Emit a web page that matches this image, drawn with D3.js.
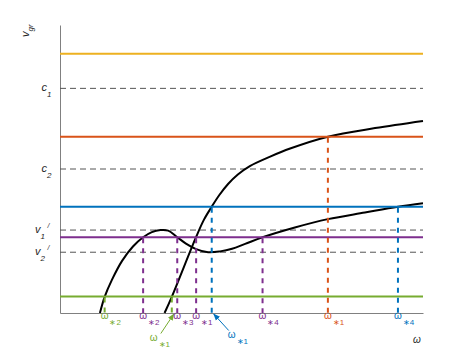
<!DOCTYPE html>
<html>
<head>
<meta charset="utf-8">
<script src="https://cdn.jsdelivr.net/npm/d3@7"></script>
<style>
  body { margin: 0; background: #fff; }
  svg text { font-family: "Liberation Sans", Arial, Helvetica, sans-serif; }
</style>
</head>
<body>
<svg id="chart" width="467" height="350"></svg>
<script>
/// Data ///
// horizontal coloured levels (yellow, orange, blue, purple, green)
const bandLevels = [9.0, 6.12, 3.69, 2.63, 0.57];
const bandColors = ["#EDB120", "#D95319", "#0072BD", "#7E2F8E", "#77AC30"];

// dashed reference levels c1, c2, v1', v2'
const refLevels = [7.8, 5.0, 2.88, 2.11];
const refNames = ["c", "c", "v", "v"];
const refSubs = ["1", "2", "1", "2"];
const refPrime = [false, false, true, true];

// the two black curves (omega, v)
const curveA = [[1.10, 0], [1.23, 0.56], [1.43, 1.15], [1.71, 1.81], [2.01, 2.31], [2.29, 2.63],
                [2.53, 2.81], [2.77, 2.88], [2.98, 2.86], [3.23, 2.63], [3.47, 2.41], [3.75, 2.22],
                [4.08, 2.11], [4.41, 2.14], [4.74, 2.23], [5.10, 2.40], [5.58, 2.63], [6.47, 2.97],
                [7.38, 3.26], [8.40, 3.49], [9.31, 3.69], [10, 3.81]];
const curveB = [[2.88, 0], [3.08, 0.56], [3.75, 2.64], [3.97, 3.25], [4.18, 3.69], [4.38, 4.08],
                [4.63, 4.48], [4.90, 4.81], [5.23, 5.10], [5.79, 5.43], [6.34, 5.71], [7.38, 6.12],
                [8.68, 6.42], [10, 6.67]];

// crossing points: omega, index of band, subscript, has arrow
const crossX = [1.23, 3.08, 2.29, 3.23, 3.75, 5.58, 4.18, 9.31, 7.38];
const crossBand = [4, 4, 3, 3, 3, 3, 2, 2, 1];
const crossSub = ["\u22172", "\u22171", "\u22172", "\u22173", "\u22171", "\u22174", "\u22171", "\u22174", "\u22171"];
const crossArrow = [false, true, false, false, false, false, true, false, false];

/// Setup ///
const svg = d3.select("#chart");
const x = d3.scaleLinear().domain([0, 10]).range([60, 423]);
const y = d3.scaleLinear().domain([0, 10]).range([313, 25]);

svg.append("defs").selectAll("marker")
    .data(bandColors)
    .enter().append("marker")
        .attr("id", (d, i) => "arr" + i)
        .attr("viewBox", "0 0 10 10")
        .attr("refX", 9).attr("refY", 5)
        .attr("markerWidth", 7).attr("markerHeight", 7)
        .attr("markerUnits", "userSpaceOnUse")
        .attr("orient", "auto")
    .append("path")
        .attr("d", "M0,1L10,5L0,9z")
        .attr("fill", d => d);

// Axes (no ticks, just the lines)
svg.append("g")
    .attr("transform", "translate(0," + y(0) + ")")
    .call(d3.axisBottom(x).ticks(0).tickSizeOuter(0))
    .select(".domain").attr("stroke", "#808080");
svg.append("g")
    .attr("transform", "translate(" + x(0) + ",0)")
    .call(d3.axisLeft(y).ticks(0).tickSizeOuter(0))
    .select(".domain").attr("stroke", "#808080");

// Dashed reference lines
svg.append("g").selectAll("line")
    .data(refLevels)
    .enter().append("line")
        .attr("x1", x(0)).attr("x2", x(10))
        .attr("y1", d => y(d)).attr("y2", d => y(d))
        .attr("stroke", "#555")
        .attr("stroke-width", 1)
        .attr("stroke-dasharray", "6,4");

// Black curves
const line = d3.line()
    .x(d => x(d[0]))
    .y(d => y(d[1]))
    .curve(d3.curveCatmullRom.alpha(0.5));
svg.append("g").selectAll("path")
    .data([curveA, curveB])
    .enter().append("path")
        .attr("d", line)
        .attr("fill", "none")
        .attr("stroke", "#000")
        .attr("stroke-width", 2);

// Coloured levels
svg.append("g").selectAll("line")
    .data(bandLevels)
    .enter().append("line")
        .attr("x1", x(0)).attr("x2", x(10))
        .attr("y1", d => y(d)).attr("y2", d => y(d))
        .attr("stroke", (d, i) => bandColors[i])
        .attr("stroke-width", 2);

// Dashed drops to the omega axis
svg.append("g").selectAll("line")
    .data(crossX)
    .enter().append("line")
        .attr("x1", d => x(d)).attr("x2", d => x(d))
        .attr("y1", (d, i) => y(bandLevels[crossBand[i]]) + 1)
        .attr("y2", y(0))
        .attr("stroke", (d, i) => bandColors[crossBand[i]])
        .attr("stroke-width", 2)
        .attr("stroke-dasharray", "5,5");

// Omega labels under the axis
crossX.forEach(function(cx, i) {
    const col = bandColors[crossBand[i]];
    let tx = x(cx) - 4, ty = 318.5;
    if (crossArrow[i]) {
        const isBlue = crossBand[i] == 2;
        tx = x(cx) - 22 + (isBlue ? 38 : 0);
        ty = isBlue ? 337.5 : 340.5;
        svg.append("line")
            .attr("x1", tx + (isBlue ? 1 : 11)).attr("y1", ty - 7)
            .attr("x2", x(cx) + 2).attr("y2", y(0) + 1)
            .attr("stroke", col).attr("stroke-width", 1)
            .attr("marker-end", "url(#arr" + crossBand[i] + ")");
    }
    const t = svg.append("text")
        .attr("x", tx).attr("y", ty)
        .attr("fill", col)
        .attr("font-size", 10)
        .text("\u03C9");
    t.append("tspan")
        .attr("dx", 1).attr("dy", 6.5)
        .attr("font-size", 8)
        .text(crossSub[i]);
});

// c / v labels on the left
refLevels.forEach(function(lv, i) {
    const t = svg.append("text")
        .attr("x", refPrime[i] ? 35 : 41.5)
        .attr("y", y(lv) + 3)
        .attr("fill", "#262626")
        .attr("font-size", 11)
        .attr("font-style", "italic")
        .text(refNames[i]);
    t.append("tspan")
        .attr("dy", 5.5)
        .attr("font-size", 8)
        .text(refSubs[i]);
    if (refPrime[i]) {
        svg.append("text")
            .attr("x", 47.5).attr("y", y(lv) - 2)
            .attr("fill", "#262626")
            .attr("font-size", 7)
            .attr("font-style", "italic")
            .text("/");
    }
});

// axis titles
const vg = svg.append("text")
    .attr("transform", "translate(28.5,37) rotate(-90)")
    .attr("fill", "#262626")
    .attr("font-size", 11)
    .attr("font-style", "italic")
    .text("v");
vg.append("tspan")
    .attr("dy", 4).attr("font-size", 8)
    .text("gr");

svg.append("text")
    .attr("x", 413).attr("y", 343)
    .attr("fill", "#262626")
    .attr("font-size", 10)
    .attr("font-style", "italic")
    .text("\u03C9");
</script>
</body>
</html>
